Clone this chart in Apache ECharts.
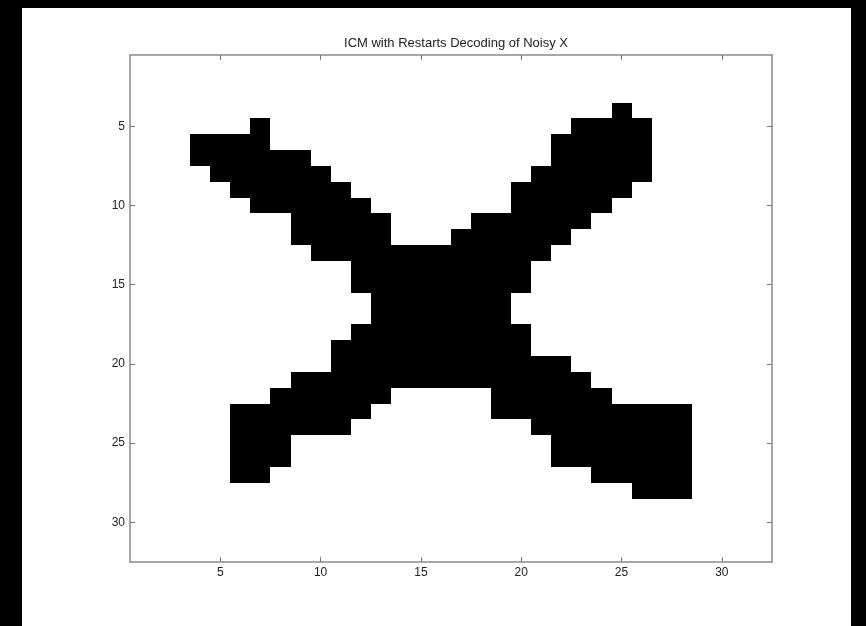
<!DOCTYPE html>
<html>
<head>
<meta charset="utf-8">
<title>ICM with Restarts Decoding of Noisy X</title>
<script src="https://cdn.jsdelivr.net/npm/echarts@6/dist/echarts.min.js"></script>
<style>
    html, body { margin: 0; padding: 0; background: #000; }
    #frame { position: absolute; left: 22px; top: 8px; width: 829px; height: 618px; background: #fff; }
    #chart { position: absolute; left: 0; top: 0; width: 866px; height: 626px; }
</style>
</head>
<body>
<div id="frame"></div>
<div id="chart"></div>
<script>
// black runs of the decoded image: row, first column, last column
var runRow  = [4, 5, 5, 6, 6, 7, 7, 8, 8, 9, 9, 10, 10, 11, 11, 12, 12, 13, 14, 15, 16, 17, 18, 19, 20, 21, 22, 22, 23, 23, 24, 24, 25, 25, 26, 26, 27, 27, 28];
var runFrom = [25, 7, 23, 4, 22, 4, 22, 5, 21, 6, 20, 7, 20, 9, 18, 9, 17, 10, 12, 12, 13, 13, 12, 11, 11, 9, 8, 19, 6, 19, 6, 21, 6, 22, 6, 22, 6, 24, 26];
var runTo   = [25, 7, 26, 7, 26, 9, 26, 10, 26, 11, 25, 12, 24, 13, 23, 13, 22, 21, 20, 20, 19, 19, 20, 20, 22, 23, 13, 24, 12, 28, 11, 28, 8, 28, 8, 28, 7, 28, 28];

var xTicks = [5, 10, 15, 20, 25, 30];
var yTicks = [5, 10, 15, 20, 25, 30];

var chartTitle = 'ICM with Restarts Decoding of Noisy X';

function buildCells() {
    var cells = [];
    for (var i = 0; i < runRow.length; i++) {
        for (var c = runFrom[i]; c <= runTo[i]; c++) {
            cells.push([c, runRow[i]]);
        }
    }
    return cells;
}

// each pixel is one unit square centred on its (column,row)
function renderCell(params, api) {
    var x = api.value(0), y = api.value(1);
    var p0 = api.coord([x - 0.5, y - 0.5]);
    var p1 = api.coord([x + 0.5, y + 0.5]);
    var x0 = Math.round(Math.min(p0[0], p1[0])), x1 = Math.round(Math.max(p0[0], p1[0]));
    var y0 = Math.round(Math.min(p0[1], p1[1])), y1 = Math.round(Math.max(p0[1], p1[1]));
    return {
        type: 'rect',
        shape: { x: x0, y: y0, width: x1 - x0, height: y1 - y0 },
        style: { fill: '#000' }
    };
}

var axisFont = 'Liberation Sans, Arial, sans-serif';
var lineColor = '#8a8a8a';

function makeAxis(position, ticks, showLabels, inverse) {
    return {
        type: 'value',
        position: position,
        min: 0.5,
        max: 32.5,
        inverse: inverse,
        splitLine: { show: false },
        axisLine: { show: true, onZero: false, lineStyle: { color: lineColor, width: 1.5 } },
        axisTick: { show: true, inside: true, length: 5, customValues: ticks, lineStyle: { color: '#777', width: 1 } },
        axisLabel: {
            show: showLabels,
            customValues: ticks,
            margin: 5,
            color: '#222',
            fontSize: 12,
            fontFamily: axisFont
        }
    };
}

var chart = echarts.init(document.getElementById('chart'), null, { renderer: 'canvas' });
chart.setOption({
    backgroundColor: 'transparent',
    animation: false,
    title: {
        text: chartTitle,
        left: 451,
        top: 32,
        textAlign: 'center',
        textStyle: { fontSize: 13, fontWeight: 'normal', color: '#222', fontFamily: axisFont }
    },
    grid: { left: 130, top: 55, right: 94, bottom: 64, containLabel: false },
    xAxis: [
        makeAxis('bottom', xTicks, true, false),
        makeAxis('top', xTicks, false, false)
    ],
    yAxis: [
        makeAxis('left', yTicks, true, true),
        makeAxis('right', yTicks, false, true)
    ],
    series: [{
        type: 'custom',
        xAxisIndex: 0,
        yAxisIndex: 0,
        renderItem: renderCell,
        encode: { x: 0, y: 1 },
        data: buildCells()
    }]
});
</script>
</body>
</html>
